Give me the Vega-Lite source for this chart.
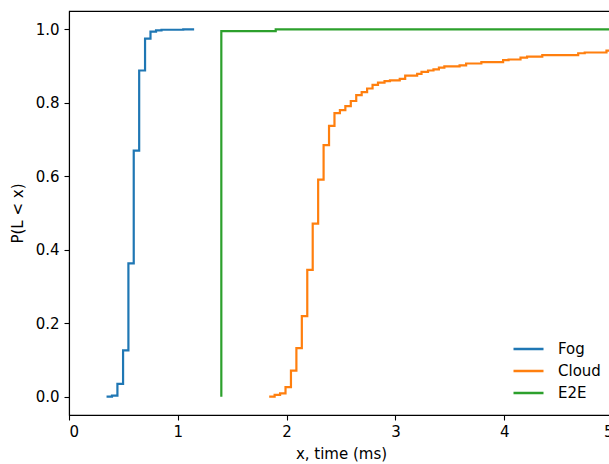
{
  "$schema": "https://vega.github.io/schema/vega-lite/v6.json",
  "width": 544,
  "height": 404,
  "autosize": {"type": "none"},
  "padding": {"left": 69, "top": 11, "right": -4, "bottom": 49},
  "background": "white",
  "config": {
    "view": {"stroke": "#000", "strokeWidth": 1.1},
    "font": "DejaVu Sans",
    "axis": {
      "grid": false,
      "domainColor": "#000",
      "domainWidth": 1.1,
      "tickColor": "#000",
      "tickWidth": 1.1,
      "tickSize": 5,
      "labelPadding": 5,
      "labelFont": "DejaVu Sans",
      "labelFontSize": 15,
      "labelColor": "#000",
      "titleFont": "DejaVu Sans",
      "titleFontSize": 15,
      "titleFontWeight": "normal",
      "titleColor": "#000"
    }
  },
  "data": {
    "values": [
      {"series": "Fog", "x": 0.345, "p": 0.0},
      {"series": "Fog", "x": 0.395, "p": 0.0},
      {"series": "Fog", "x": 0.445, "p": 0.003},
      {"series": "Fog", "x": 0.497, "p": 0.035},
      {"series": "Fog", "x": 0.546, "p": 0.126},
      {"series": "Fog", "x": 0.595, "p": 0.363},
      {"series": "Fog", "x": 0.645, "p": 0.670},
      {"series": "Fog", "x": 0.699, "p": 0.888},
      {"series": "Fog", "x": 0.749, "p": 0.975},
      {"series": "Fog", "x": 0.80, "p": 0.994},
      {"series": "Fog", "x": 0.85, "p": 0.997},
      {"series": "Fog", "x": 1.05, "p": 0.999},
      {"series": "Fog", "x": 1.15, "p": 1.0},
      {"series": "Cloud", "x": 1.84, "p": 0.0},
      {"series": "Cloud", "x": 1.89, "p": 0.0},
      {"series": "Cloud", "x": 1.94, "p": 0.005},
      {"series": "Cloud", "x": 1.99, "p": 0.009},
      {"series": "Cloud", "x": 2.04, "p": 0.026},
      {"series": "Cloud", "x": 2.09, "p": 0.071},
      {"series": "Cloud", "x": 2.14, "p": 0.132},
      {"series": "Cloud", "x": 2.19, "p": 0.219},
      {"series": "Cloud", "x": 2.24, "p": 0.345},
      {"series": "Cloud", "x": 2.29, "p": 0.471},
      {"series": "Cloud", "x": 2.34, "p": 0.591},
      {"series": "Cloud", "x": 2.39, "p": 0.685},
      {"series": "Cloud", "x": 2.44, "p": 0.737},
      {"series": "Cloud", "x": 2.49, "p": 0.772},
      {"series": "Cloud", "x": 2.54, "p": 0.780},
      {"series": "Cloud", "x": 2.59, "p": 0.791},
      {"series": "Cloud", "x": 2.64, "p": 0.805},
      {"series": "Cloud", "x": 2.69, "p": 0.821},
      {"series": "Cloud", "x": 2.74, "p": 0.829},
      {"series": "Cloud", "x": 2.79, "p": 0.839},
      {"series": "Cloud", "x": 2.84, "p": 0.849},
      {"series": "Cloud", "x": 2.90, "p": 0.855},
      {"series": "Cloud", "x": 2.95, "p": 0.859},
      {"series": "Cloud", "x": 3.04, "p": 0.861},
      {"series": "Cloud", "x": 3.09, "p": 0.865},
      {"series": "Cloud", "x": 3.20, "p": 0.874},
      {"series": "Cloud", "x": 3.24, "p": 0.879},
      {"series": "Cloud", "x": 3.30, "p": 0.884},
      {"series": "Cloud", "x": 3.35, "p": 0.888},
      {"series": "Cloud", "x": 3.40, "p": 0.891},
      {"series": "Cloud", "x": 3.45, "p": 0.896},
      {"series": "Cloud", "x": 3.59, "p": 0.899},
      {"series": "Cloud", "x": 3.65, "p": 0.902},
      {"series": "Cloud", "x": 3.79, "p": 0.907},
      {"series": "Cloud", "x": 3.99, "p": 0.911},
      {"series": "Cloud", "x": 4.04, "p": 0.916},
      {"series": "Cloud", "x": 4.15, "p": 0.918},
      {"series": "Cloud", "x": 4.21, "p": 0.923},
      {"series": "Cloud", "x": 4.35, "p": 0.926},
      {"series": "Cloud", "x": 4.68, "p": 0.930},
      {"series": "Cloud", "x": 4.74, "p": 0.935},
      {"series": "Cloud", "x": 4.94, "p": 0.937},
      {"series": "Cloud", "x": 5.3, "p": 0.942},
      {"series": "E2E", "x": 1.4, "p": 0.0},
      {"series": "E2E", "x": 1.9, "p": 0.995},
      {"series": "E2E", "x": 5.3, "p": 1.0}
    ]
  },
  "mark": {"type": "line", "interpolate": "step-before", "strokeWidth": 2.2, "clip": true},
  "encoding": {
    "x": {
      "field": "x",
      "type": "quantitative",
      "scale": {"domain": [0, 5], "nice": false, "zero": false},
      "axis": {"values": [0, 1, 2, 3, 4, 5], "format": "d", "title": "x, time (ms)", "labelPadding": 4, "titlePadding": 7}
    },
    "y": {
      "field": "p",
      "type": "quantitative",
      "scale": {"domain": [-0.05, 1.05], "nice": false, "zero": false},
      "axis": {"values": [0, 0.2, 0.4, 0.6, 0.8, 1.0], "format": ".1f", "title": "P(L < x)", "titlePadding": 10}
    },
    "color": {
      "field": "series",
      "type": "nominal",
      "scale": {"domain": ["Fog", "Cloud", "E2E"], "range": ["#1f77b4", "#ff7f0e", "#2ca02c"]},
      "legend": {
        "title": null,
        "orient": "none",
        "legendX": 443,
        "legendY": 327,
        "symbolType": "stroke",
        "symbolSize": 900,
        "symbolStrokeWidth": 2.5,
        "clipHeight": 22,
        "rowPadding": 0,
        "labelOffset": 13,
        "labelFont": "DejaVu Sans",
        "labelFontSize": 15,
        "labelColor": "#000",
        "padding": 0
      }
    }
  }
}
